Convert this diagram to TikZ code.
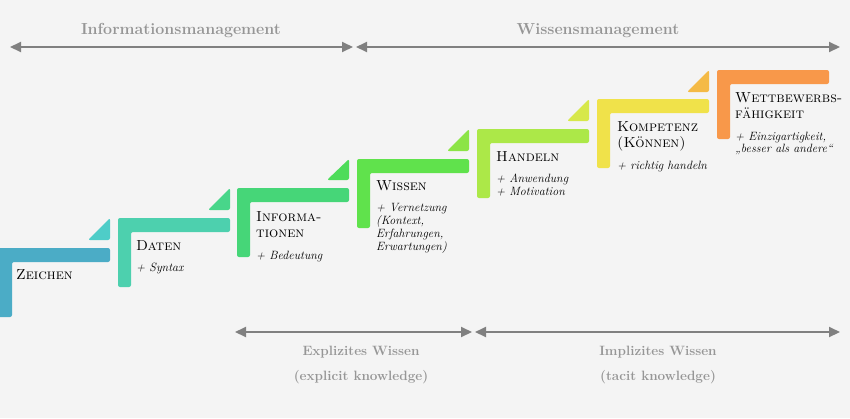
\documentclass[tikz,border=0pt]{standalone}
\usepackage{fontspec}
\usepackage{xcolor}
\usepackage{tikz}
\usetikzlibrary{arrows.meta}

\definecolor{hintergrund}{RGB}{244,244,244}
\definecolor{pfeilgrau}{RGB}{128,128,128}
\definecolor{textgrau}{RGB}{150,150,150}
\definecolor{zeichenc}{RGB}{75,172,198}
\definecolor{tri1}{RGB}{78,205,200}
\definecolor{datenc}{RGB}{77,208,174}
\definecolor{tri2}{RGB}{72,214,138}
\definecolor{infoc}{RGB}{70,214,120}
\definecolor{tri3}{RGB}{78,220,90}
\definecolor{wissenc}{RGB}{96,226,76}
\definecolor{tri4}{RGB}{140,228,70}
\definecolor{handelnc}{RGB}{172,232,72}
\definecolor{tri5}{RGB}{215,232,74}
\definecolor{kompc}{RGB}{240,226,74}
\definecolor{tri6}{RGB}{244,186,70}
\definecolor{wettc}{RGB}{248,152,74}

\newcommand{\stepdesc}{\itshape\fontsize{12}{13}\selectfont}

\begin{document}
\begin{tikzpicture}[x=1pt, y=-1pt,
  stufe/.style={anchor=north west, inner sep=0pt, align=left, text=black,
    font=\fontsize{14.5}{16.5}\selectfont},
  bereich/.style={text=textgrau, align=center, font=\bfseries\fontsize{13.5}{25}\selectfont},
  pfeil/.style={<->, >={Triangle[length=11pt,width=10pt]}, line width=2pt, draw=pfeilgrau},
  ecke/.style={rounded corners=2pt}]
  \fill[hintergrund] (0,0) rectangle (850,418);
  \useasboundingbox (0,0) rectangle (850,418);

  % steps
  \fill[zeichenc, ecke] (-2,248) -- ++(112,0) -- ++(0,14) -- ++(-98,0) -- ++(0,55) -- ++(-14,0) -- cycle;
  \fill[tri1, ecke] (88,240) -- (110,218) -- (110,240) -- cycle;
  \fill[datenc, ecke] (118,218) -- ++(112,0) -- ++(0,14) -- ++(-99,0) -- ++(0,55) -- ++(-13,0) -- cycle;
  \fill[tri2, ecke] (208,210) -- (230,188) -- (230,210) -- cycle;
  \fill[infoc, ecke] (237,188) -- ++(112,0) -- ++(0,14) -- ++(-99,0) -- ++(0,55) -- ++(-13,0) -- cycle;
  \fill[tri3, ecke] (327,180) -- (349,159) -- (349,180) -- cycle;
  \fill[wissenc, ecke] (357,159) -- ++(112,0) -- ++(0,14) -- ++(-99,0) -- ++(0,55) -- ++(-13,0) -- cycle;
  \fill[tri4, ecke] (447,151) -- (469,129) -- (469,151) -- cycle;
  \fill[handelnc, ecke] (477,129) -- ++(112,0) -- ++(0,14) -- ++(-99,0) -- ++(0,55) -- ++(-13,0) -- cycle;
  \fill[tri5, ecke] (567,121) -- (589,99) -- (589,121) -- cycle;
  \fill[kompc, ecke] (597,99) -- ++(112,0) -- ++(0,14) -- ++(-99,0) -- ++(0,55) -- ++(-13,0) -- cycle;
  \fill[tri6, ecke] (687,92) -- (709,70) -- (709,92) -- cycle;
  \fill[wettc, ecke] (717,70) -- ++(112,0) -- ++(0,14) -- ++(-99,0) -- ++(0,55) -- ++(-13,0) -- cycle;

  \node[stufe] (zeichen) at (16,269) {\textsc{Zeichen}};
  \node[stufe] (daten) at (136,240) {\textsc{Daten}\\[5pt] {\stepdesc + Syntax}};
  \node[stufe] (info) at (256,211) {\textsc{Informa-}\\ \textsc{tionen}\\[5pt] {\stepdesc + Bedeutung}};
  \node[stufe] (wissen) at (376,180) {\textsc{Wissen}\\[5pt] {\stepdesc + Vernetzung}\\[-3.7pt]
    {\stepdesc (Kontext,}\\[-3.7pt] {\stepdesc Erfahrungen,}\\[-3.7pt] {\stepdesc Erwartungen)}};
  \node[stufe] (handeln) at (496,151) {\textsc{Handeln}\\[5pt] {\stepdesc + Anwendung}\\[-3.7pt]
    {\stepdesc + Motivation}};
  \node[stufe] (kompetenz) at (617,121) {\textsc{Kompetenz}\\ \textsc{(Können)}\\[5pt]
    {\stepdesc + richtig handeln}};
  \node[stufe] (wett) at (735,92) {\textsc{Wettbewerbs-}\\ \textsc{fähigkeit}\\[5pt]
    {\stepdesc + Einzigartigkeit,}\\[-3.7pt] {\stepdesc „besser als andere“}};

  % management arrows
  \coordinate (im-a) at (10,47);
  \coordinate (im-b) at (353,47);
  \coordinate (wm-a) at (356,47);
  \coordinate (wm-b) at (840,47);
  \draw[pfeil] (im-a) -- (im-b);
  \draw[pfeil] (wm-a) -- (wm-b);
  \node[bereich, font=\bfseries\fontsize{16}{18}\selectfont, anchor=base] (infomgmt) at (181,34) {Informationsmanagement};
  \node[bereich, font=\bfseries\fontsize{16}{18}\selectfont, anchor=base] (wissenmgmt) at (598,34) {Wissensmanagement};

  % knowledge arrows
  \coordinate (ew-a) at (235,332);
  \coordinate (ew-b) at (472,332);
  \coordinate (iw-a) at (475,332);
  \coordinate (iw-b) at (840,332);
  \draw[pfeil] (ew-a) -- (ew-b);
  \draw[pfeil] (iw-a) -- (iw-b);
  \node[bereich, anchor=north] (explizit) at (361,343) {Explizites Wissen\\(explicit knowledge)};
  \node[bereich, anchor=north] (implizit) at (658,343) {Implizites Wissen\\(tacit knowledge)};
\end{tikzpicture}
\end{document}
